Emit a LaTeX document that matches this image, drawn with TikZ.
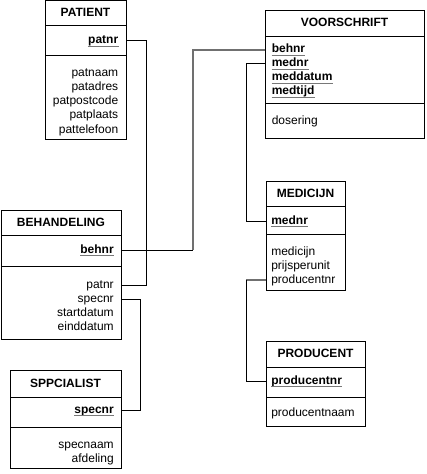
\documentclass[tikz,border=0pt]{standalone}
\usepackage{fontspec}
\setmainfont{Liberation Sans}
\definecolor{keygray}{HTML}{787878}
\definecolor{linegray}{HTML}{707070}
\begin{document}
\begin{tikzpicture}[x=0.75pt,y=-0.75pt,
  ent/.style={draw=black, line width=0.75pt, inner sep=0pt, outer sep=0pt, anchor=north west},
  sepl/.style={draw=black, line width=0.75pt},
  att/.style={font=\fontsize{9}{10.5}\selectfont, inner sep=0pt, text height=6.4pt, text depth=1.9pt},
  ttl/.style={att, font=\fontsize{9}{10.5}\selectfont\bfseries},
  keyf/.style={att, font=\fontsize{9}{10.5}\selectfont\bfseries,
    append after command={([yshift=-1.8pt]\tikzlastnode.base west) edge[draw=keygray, line width=1pt] ([yshift=-1.8pt]\tikzlastnode.base east)}},
  conn/.style={draw=black, line width=0.75pt},
  conng/.style={draw=linegray, line width=1.2pt}]
\useasboundingbox (0,0) rectangle (426,474);

% PATIENT
\node[ent, minimum width=60.75pt, minimum height=104.25pt] (pat) at (45,1) {};
\draw[sepl] (pat.west |- 0,26) -- (pat.east |- 0,26);
\draw[sepl] (pat.west |- 0,56) -- (pat.east |- 0,56);
\node[ttl] (patT) at (pat.north |- 0,14) {PATIENT};
\node[keyf, anchor=east] (patK) at (118.5,41) {patnr};
\node[att, anchor=east] (pat1) at (118.5,74) {patnaam};
\node[att, anchor=east] (pat2) at (118.5,88) {patadres};
\node[att, anchor=east] (pat3) at (118.5,102) {patpostcode};
\node[att, anchor=east] (pat4) at (118.5,116) {patplaats};
\node[att, anchor=east] (pat5) at (118.5,130) {pattelefoon};

% BEHANDELING
\node[ent, minimum width=90pt, minimum height=96.75pt] (beh) at (1,210) {};
\draw[sepl] (beh.west |- 0,235) -- (beh.east |- 0,235);
\draw[sepl] (beh.west |- 0,266) -- (beh.east |- 0,266);
\node[ttl] (behT) at (beh.north |- 0,223) {BEHANDELING};
\node[keyf, anchor=east] (behK) at (114,250) {behnr};
\node[att, anchor=east] (behP) at (114,285) {patnr};
\node[att, anchor=east] (behS) at (114,299) {specnr};
\node[att, anchor=east] (beh3) at (114,313) {startdatum};
\node[att, anchor=east] (beh4) at (114,327) {einddatum};

% SPPCIALIST
\node[ent, minimum width=83.25pt, minimum height=73.5pt] (sp) at (10,370) {};
\draw[sepl] (sp.west |- 0,397) -- (sp.east |- 0,397);
\draw[sepl] (sp.west |- 0,427) -- (sp.east |- 0,427);
\node[ttl] (spT) at (sp.north |- 0,384) {SPPCIALIST};
\node[keyf, anchor=east] (spK) at (114,410) {specnr};
\node[att, anchor=east] (sp1) at (114,445) {specnaam};
\node[att, anchor=east] (sp2) at (114,459) {afdeling};

% VOORSCHRIFT
\node[ent, minimum width=119.25pt, minimum height=96pt] (vs) at (265,11) {};
\draw[sepl] (vs.west |- 0,37) -- (vs.east |- 0,37);
\draw[sepl] (vs.west |- 0,104) -- (vs.east |- 0,104);
\node[ttl] (vsT) at (vs.north |- 0,24) {VOORSCHRIFT};
\node[keyf, anchor=west] (vsK1) at (271.5,50) {behnr};
\node[keyf, anchor=west] (vsK2) at (271.5,64) {mednr};
\node[keyf, anchor=west] (vsK3) at (271.5,78) {meddatum};
\node[keyf, anchor=west] (vsK4) at (271.5,92) {medtijd};
\node[att, anchor=west] (vs1) at (271.5,122) {dosering};

% MEDICIJN
\node[ent, minimum width=59.25pt, minimum height=81.75pt] (med) at (266,181) {};
\draw[sepl] (med.west |- 0,206) -- (med.east |- 0,206);
\draw[sepl] (med.west |- 0,234) -- (med.east |- 0,234);
\node[ttl] (medT) at (med.north |- 0,194) {MEDICIJN};
\node[keyf, anchor=west] (medK) at (271,221) {mednr};
\node[att, anchor=west] (med1) at (271,252) {medicijn};
\node[att, anchor=west] (med2) at (271,266) {prijsperunit};
\node[att, anchor=west] (medP) at (271,280) {producentnr};

% PRODUCENT
\node[ent, minimum width=74.25pt, minimum height=63.75pt] (prod) at (266,341) {};
\draw[sepl] (prod.west |- 0,367) -- (prod.east |- 0,367);
\draw[sepl] (prod.west |- 0,397) -- (prod.east |- 0,397);
\node[ttl] (prodT) at (prod.north |- 0,354) {PRODUCENT};
\node[keyf, anchor=west] (prodK) at (271,381) {producentnr};
\node[att, anchor=west] (prod1) at (271,413) {producentnaam};

% connectors
\draw[conn] (pat.east |- patK) -- ++(20,0) |- (beh.east |- behP);
\draw[conn] (beh.east |- behK) -- ++(72,0) coordinate (c2);
\draw[conng] (c2) |- (vs.west |- vsK1);
\draw[conn] (beh.east |- behS) -- ++(19,0) |- (sp.east |- spK);
\draw[conn] (vs.west |- vsK2) -- ++(-19,0) |- (med.west |- medK);
\draw[conng] (med.west |- medP) -- ++(-20,0) coordinate (c5);
\draw[conn] (c5) |- (prod.west |- prodK);
\end{tikzpicture}
\end{document}
